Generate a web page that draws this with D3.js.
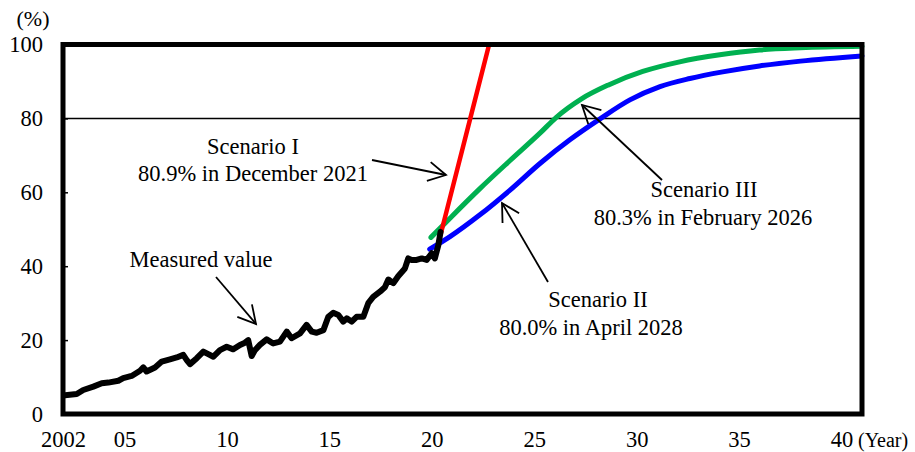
<!DOCTYPE html>
<html>
<head>
<meta charset="utf-8">
<script src="https://cdn.jsdelivr.net/npm/d3@7"></script>
<style>
  html, body { margin: 0; padding: 0; background: #fff; }
  svg { display: block; }
  svg text { font-family: "Liberation Serif", "Times New Roman", Times, serif; fill: #000; }
</style>
</head>
<body>
<svg id="chart" width="915" height="452"></svg>
<script>
// Measured share (%), decimal year
const measuredYears = [
  2002.10, 2002.67, 2002.99, 2003.48, 2003.89, 2004.21, 2004.70, 2004.94, 2005.35, 2005.76,
  2005.92, 2006.08, 2006.49, 2006.82, 2007.22, 2007.55, 2007.87, 2008.04, 2008.20, 2008.53,
  2008.85, 2009.09, 2009.34, 2009.66, 2009.99, 2010.31, 2010.64, 2010.88, 2011.04, 2011.21,
  2011.37, 2011.61, 2011.94, 2012.26, 2012.59, 2012.92, 2013.16, 2013.57, 2013.89, 2014.14,
  2014.38, 2014.71, 2014.95, 2015.19, 2015.44, 2015.68, 2015.85, 2016.09, 2016.33, 2016.66,
  2016.90, 2017.14, 2017.47, 2017.71, 2017.88, 2018.12, 2018.36, 2018.69, 2018.85, 2019.02,
  2019.26, 2019.51, 2019.75, 2020.00, 2020.15, 2020.32, 2020.43
];
const measuredValues = [
  5.1, 5.4, 6.5, 7.4, 8.3, 8.5, 9.0, 9.7, 10.3, 11.7,
  12.6, 11.5, 12.6, 14.2, 14.8, 15.3, 16.0, 14.6, 13.5, 15.1,
  16.9, 16.2, 15.5, 17.3, 18.2, 17.5, 18.7, 19.3, 20.0, 15.7,
  17.3, 18.7, 20.2, 19.1, 19.6, 22.3, 20.5, 21.8, 24.1, 22.3,
  22.0, 22.7, 26.3, 27.4, 26.8, 25.0, 25.9, 25.0, 26.3, 26.3,
  30.0, 31.7, 33.1, 34.3, 36.4, 35.4, 37.3, 39.4, 42.1, 41.7,
  41.7, 42.1, 41.7, 43.5, 42.1, 45.7, 49.3
];

// Scenario I
const scen1Years  = [2020.42, 2021.92, 2022.80];
const scen1Values = [48.3, 80.9, 100];

// Scenario II
const scen2Years  = [2019.90, 2020.89, 2022.35, 2023.82, 2025.28, 2026.74, 2028.25, 2029.67,
                     2031.14, 2032.60, 2034.20, 2036.00, 2038.00, 2041.00];
const scen2Values = [44.6, 48.0, 53.9, 60.6, 67.8, 74.2, 80.0, 85.0,
                     88.6, 90.8, 92.6, 94.2, 95.5, 96.9];

// Scenario III
const scen3Years  = [2019.96, 2020.89, 2022.35, 2023.82, 2025.28, 2026.08, 2027.31, 2028.60,
                     2030.30, 2032.10, 2034.06, 2036.00, 2038.00, 2041.00];
const scen3Values = [47.8, 53.0, 61.0, 68.6, 76.0, 80.3, 85.3, 89.0,
                     92.7, 95.3, 97.2, 98.5, 99.1, 99.5];

// Axis ticks
const yTicks = [0, 20, 40, 60, 80, 100];
const xTicks = [2002, 2005, 2010, 2015, 2020, 2025, 2030, 2035, 2040];
const xTickLabels = ["2002", "05", "10", "15", "20", "25", "30", "35", "40"];

const FONT = '"Liberation Serif", "Times New Roman", Times, serif';
const svg = d3.select("#chart");
const plotLeft = 63, plotRight = 862, plotTop = 44.5, plotBottom = 414;

const x = d3.scaleLinear().domain([2002, 2041]).range([plotLeft, plotRight]);
const y = d3.scaleLinear().domain([0, 100]).range([plotBottom, plotTop]);

const zip = (xs, ys) => xs.map((d, i) => [d, ys[i]]);

// Y axis with short inward ticks
const yAxis = d3.axisLeft(y).tickValues(yTicks).tickSize(-5).tickPadding(20)
  .tickFormat(d3.format("d"));
const gy = svg.append("g").attr("transform", `translate(${plotLeft},0)`).call(yAxis)
  .attr("font-family", FONT).attr("font-size", 22.5);
gy.select(".domain").remove();
gy.selectAll(".tick line").attr("stroke", "#000").attr("stroke-width", 1.5);

// X axis: labels only
const xAxis = d3.axisBottom(x).tickValues(xTicks).tickSize(0).tickPadding(17.5)
  .tickFormat((d, i) => xTickLabels[i]);
const gx = svg.append("g").attr("transform", `translate(0,${plotBottom})`).call(xAxis)
  .attr("font-family", FONT).attr("font-size", 22.5);
gx.select(".domain").remove();

svg.append("text").attr("x", 858).attr("y", 447)
  .attr("font-family", FONT).attr("font-size", 20).text("(Year)");
svg.append("text").attr("x", 33).attr("y", 26).attr("text-anchor", "middle")
  .attr("font-family", FONT).attr("font-size", 22).text("(%)");

// 80% reference line
svg.append("line")
  .attr("x1", plotLeft).attr("x2", plotRight).attr("y1", y(80)).attr("y2", y(80))
  .attr("stroke", "#000").attr("stroke-width", 1.5);

const straight = d3.line().x(d => x(d[0])).y(d => y(d[1]));
const smooth = d3.line().x(d => x(d[0])).y(d => y(d[1])).curve(d3.curveMonotoneX);

svg.append("path").datum(zip(scen2Years, scen2Values))
  .attr("d", smooth).attr("fill", "none").attr("stroke", "#0000FF")
  .attr("stroke-width", 5).attr("stroke-linecap", "round");
svg.append("path").datum(zip(scen3Years, scen3Values))
  .attr("d", smooth).attr("fill", "none").attr("stroke", "#00B050")
  .attr("stroke-width", 5).attr("stroke-linecap", "round");
svg.append("path").datum(zip(scen1Years, scen1Values))
  .attr("d", straight).attr("fill", "none").attr("stroke", "#FF0000")
  .attr("stroke-width", 4.5);
svg.append("path").datum(zip(measuredYears, measuredValues))
  .attr("d", straight).attr("fill", "none").attr("stroke", "#000")
  .attr("stroke-width", 6).attr("stroke-linejoin", "round").attr("stroke-linecap", "round");

// Plot frame
svg.append("rect")
  .attr("x", plotLeft).attr("y", plotTop)
  .attr("width", plotRight - plotLeft).attr("height", plotBottom - plotTop)
  .attr("fill", "none").attr("stroke", "#000").attr("stroke-width", 5);

// Annotations with open arrowheads
function arrow(x1, y1, x2, y2) {
  const g = svg.append("g").attr("stroke", "#000").attr("stroke-width", 1.8).attr("fill", "none");
  g.append("line").attr("x1", x1).attr("y1", y1).attr("x2", x2).attr("y2", y2);
  const a = Math.atan2(y1 - y2, x1 - x2), len = 20, spread = 0.5;
  g.append("polyline").attr("points", [
    [x2 + len * Math.cos(a + spread), y2 + len * Math.sin(a + spread)],
    [x2, y2],
    [x2 + len * Math.cos(a - spread), y2 + len * Math.sin(a - spread)]
  ].map(p => p.join(",")).join(" "));
}
function label(lines) {
  lines.forEach(([tx, ty, s]) => {
    svg.append("text").attr("x", tx).attr("y", ty).attr("text-anchor", "middle")
      .attr("font-family", FONT).attr("font-size", 22.5).text(s);
  });
}

label([[253, 154, "Scenario I"], [253, 181, "80.9% in December 2021"]]);
arrow(372, 160, 446, 175);

label([[201, 267, "Measured value"]]);
arrow(216, 277, 256, 324);

label([[704, 197, "Scenario III"], [703, 225, "80.3% in February 2026"]]);
arrow(662, 180, 582, 105);

label([[598, 307, "Scenario II"], [591, 335, "80.0% in April 2028"]]);
arrow(548, 282, 502, 203);
</script>
</body>
</html>
